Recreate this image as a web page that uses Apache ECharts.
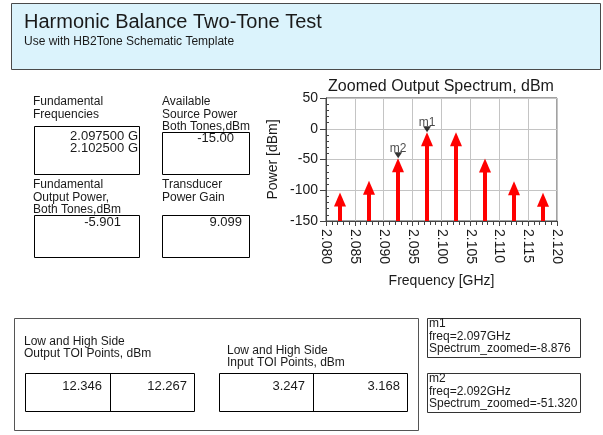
<!DOCTYPE html>
<html>
<head>
<meta charset="utf-8">
<title>Harmonic Balance Two-Tone Test</title>
<script src="https://cdn.jsdelivr.net/npm/echarts@6/dist/echarts.min.js"></script>
<style>
  html, body { margin: 0; padding: 0; background: #fff; }
  #chart { width: 603px; height: 435px; }
</style>
</head>
<body>
<div id="chart"></div>
<script>
// spectrum tones, GHz, and their power, dBm
const freqs = [2.0825, 2.0875, 2.0925, 2.0975, 2.1025, 2.1075, 2.1125, 2.1175];
const power = [-107, -88, -51.32, -8.876, -8.9, -51.5, -88.5, -107.5];
const xTicks = [2.080, 2.085, 2.090, 2.095, 2.100, 2.105, 2.110, 2.115, 2.120];
const yTicks = [-150, -100, -50, 0, 50];

// markers on the spectrum
const markerNames = ['m1', 'm2'];
const markerFreqs = [2.0975, 2.0925];
const markerPower = [-8.876, -51.32];
const markerFreqText = ['2.097', '2.092'];

// readouts
const fundFreqs = ['2.097500 G', '2.102500 G'];
const sourcePower = '-15.00';
const outputPower = '-5.901';
const powerGain = '9.099';
const outputTOI = ['12.346', '12.267'];
const inputTOI = ['3.247', '3.168'];

const FONT = '"Liberation Sans", Arial, sans-serif';
const INK = '#1a1a1a';

function box (x, y, w, h, stroke, fill) {
  return {
    type: 'rect', silent: true,
    shape: { x: x + 0.5, y: y + 0.5, width: w, height: h },
    style: { fill: fill || 'none', stroke: stroke || '#000', lineWidth: 1 }
  };
}
function line (x1, y1, x2, y2) {
  return { type: 'line', silent: true, shape: { x1: x1 + 0.5, y1: y1, x2: x2 + 0.5, y2: y2 }, style: { stroke: '#000', lineWidth: 1 } };
}
// several text lines, one element each
function lines (arr, x, y0, dy, size, align) {
  return arr.map((s, i) => ({
    type: 'text', silent: true, x: x, y: y0 + i * dy,
    style: { text: s, font: size + 'px ' + FONT, fill: INK, align: align || 'left', verticalAlign: 'middle' }
  }));
}

const marks = [
  box(11, 3, 589, 66, '#4a4a4a', '#dbf3fc'),
  ...lines(['Harmonic Balance Two-Tone Test'], 24, 22, 0, 20),
  ...lines(['Use with HB2Tone Schematic Template'], 24, 42, 0, 12),

  // readout boxes, left panel
  ...lines(['Fundamental', 'Frequencies'], 33, 102, 12.5, 12),
  box(34, 126, 105, 48),
  ...lines(fundFreqs, 138, 136, 12, 13, 'right'),
  ...lines(['Available', 'Source Power', 'Both Tones,dBm'], 162, 102, 12.5, 12),
  box(162, 132, 87, 42),
  ...lines([sourcePower], 234, 138, 0, 13, 'right'),
  ...lines(['Fundamental', 'Output Power,', 'Both Tones,dBm'], 33, 185, 12.5, 12),
  box(34, 215, 105, 42),
  ...lines([outputPower], 121, 222, 0, 13, 'right'),
  ...lines(['Transducer', 'Power Gain'], 162, 185, 12.5, 12),
  box(162, 215, 87, 42),
  ...lines([powerGain], 242, 222, 0, 13, 'right'),

  // TOI panel
  box(14, 318, 404, 112, '#555'),
  ...lines(['Low and High Side', 'Output TOI Points, dBm'], 24, 342, 11.5, 12),
  box(25, 373, 169, 38),
  line(110, 373, 110, 411),
  ...lines([outputTOI[0]], 102, 386, 0, 13, 'right'),
  ...lines([outputTOI[1]], 187, 386, 0, 13, 'right'),
  ...lines(['Low and High Side', 'Input TOI Points, dBm'], 227, 351, 11.5, 12),
  box(219, 373, 188, 38),
  line(313, 373, 313, 411),
  ...lines([inputTOI[0]], 305, 386, 0, 13, 'right'),
  ...lines([inputTOI[1]], 400, 386, 0, 13, 'right'),

  // marker readouts
  box(427, 318, 153, 39, '#333'),
  ...lines([markerNames[0], 'freq=' + markerFreqText[0] + 'GHz', 'Spectrum_zoomed=' + markerPower[0].toFixed(3)], 429, 324, 12.5, 12),
  box(427, 373, 153, 39, '#333'),
  ...lines([markerNames[1], 'freq=' + markerFreqText[1] + 'GHz', 'Spectrum_zoomed=' + markerPower[1].toFixed(3)], 429, 379, 12.5, 12),

  // plot title
  {
    type: 'text', silent: true, x: 441, y: 87,
    style: { text: 'Zoomed Output Spectrum, dBm', font: '16px ' + FONT, fill: INK, align: 'center', verticalAlign: 'middle' }
  }
];

const chart = echarts.init(document.getElementById('chart'));
const axisInk = { color: '#444', width: 1 };

chart.setOption({
  animation: false,
  backgroundColor: '#fff',
  graphic: marks,
  grid: [
    { left: 326, top: 98, width: 231, height: 123, show: true, borderColor: '#444', borderWidth: 1 },
    { left: 326, top: 98, width: 231, height: 123 }
  ],
  xAxis: [
    {
      gridIndex: 0, type: 'value',
      min: xTicks[0], max: xTicks[xTicks.length - 1], interval: 0.005,
      axisLine: { onZero: false, lineStyle: axisInk },
      axisTick: { length: 5, lineStyle: axisInk },
      minorTick: { show: true, splitNumber: 5, length: 4, lineStyle: axisInk },
      splitLine: { show: true, lineStyle: { color: '#c4c4c4' } },
      axisLabel: {
        rotate: -90, margin: 8, fontSize: 14, color: INK, fontFamily: FONT,
        formatter: v => v.toFixed(3)
      },
      name: 'Frequency [GHz]', nameLocation: 'middle', nameGap: 53,
      nameTextStyle: { fontSize: 14, color: INK, fontFamily: FONT }
    },
    { gridIndex: 1, type: 'value', min: xTicks[0], max: xTicks[xTicks.length - 1], show: false }
  ],
  yAxis: [
    {
      gridIndex: 0, type: 'value',
      min: yTicks[0], max: yTicks[yTicks.length - 1], interval: 50,
      axisLine: { onZero: false, lineStyle: axisInk },
      axisTick: { length: 6, lineStyle: axisInk },
      splitLine: { show: true, lineStyle: { color: '#c4c4c4' } },
      axisLabel: { margin: 8, fontSize: 14, color: INK, fontFamily: FONT },
      name: 'Power [dBm]', nameLocation: 'middle', nameGap: 46, nameRotate: 90,
      nameTextStyle: { fontSize: 14, color: INK, fontFamily: FONT }
    },
    {
      // only the inner minor ticks
      gridIndex: 1, type: 'value',
      min: yTicks[0], max: yTicks[yTicks.length - 1], interval: 50,
      axisLine: { show: false, onZero: false },
      axisTick: { show: false, inside: true },
      minorTick: { show: true, splitNumber: 5, length: 3, lineStyle: axisInk },
      axisLabel: { show: false },
      splitLine: { show: false }
    }
  ],
  series: [
    {
      type: 'custom', xAxisIndex: 0, yAxisIndex: 0, z: 3,
      data: freqs.map((f, i) => [f, power[i]]),
      renderItem: function (params, api) {
        const base = api.coord([api.value(0), yTicks[0]]);
        const tip = api.coord([api.value(0), api.value(1)]);
        const tx = Math.round(tip[0]);
        const ty = tip[1] - 2;
        const headH = 14, headW = 12, shaftW = 4;
        return {
          type: 'group',
          children: [
            {
              type: 'rect',
              shape: { x: tx - shaftW / 2, y: ty + headH - 1, width: shaftW, height: base[1] - ty - headH + 1 },
              style: { fill: '#ff0000' }
            },
            {
              type: 'polygon',
              shape: { points: [[tx, ty], [tx - headW / 2, ty + headH], [tx + headW / 2, ty + headH]] },
              style: { fill: '#ff0000' }
            }
          ]
        };
      }
    },
    {
      type: 'scatter', xAxisIndex: 0, yAxisIndex: 0, z: 4,
      data: markerFreqs.map((f, i) => ({ name: markerNames[i], value: [f, markerPower[i]] })),
      symbol: 'path://M0,0 L8,0 L4,6 Z',
      symbolSize: [8, 6],
      symbolOffset: [0, -5],
      itemStyle: { color: '#000' },
      label: {
        show: true, position: 'top', distance: -2, formatter: '{b}',
        fontSize: 12, color: INK, fontFamily: FONT
      }
    }
  ]
});
</script>
</body>
</html>
